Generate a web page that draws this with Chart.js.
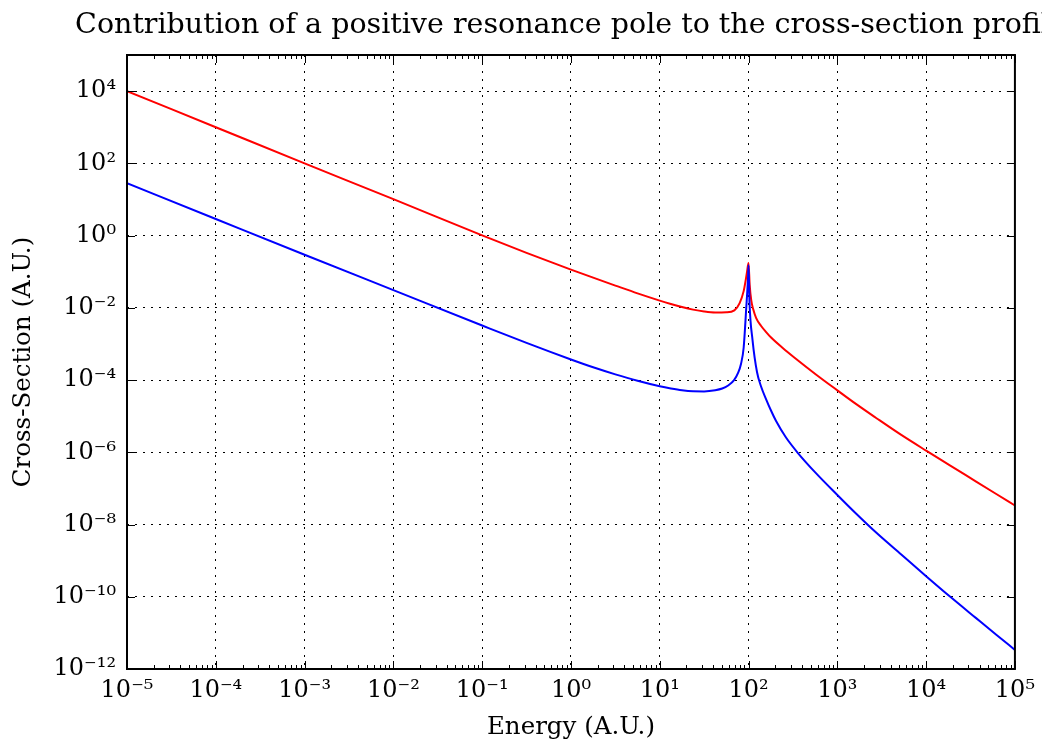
<!DOCTYPE html>
<html><head><meta charset="utf-8">
<script src="https://cdn.jsdelivr.net/npm/chart.js@4/dist/chart.umd.min.js"></script>
<style>html,body{margin:0;padding:0;background:#fff}canvas{display:block}</style>
</head><body>
<canvas id="c" width="1042" height="748"></canvas>
<script>
const titleText = 'Contribution of a positive resonance pole to the cross-section profile';
const xTitle = 'Energy (A.U.)';
const yTitle = 'Cross-Section (A.U.)';

const xTickValues = [1e-5, 1e-4, 1e-3, 1e-2, 1e-1, 1e0, 1e1, 1e2, 1e3, 1e4, 1e5];
const xTickLabels = ['10⁻⁵','10⁻⁴','10⁻³','10⁻²','10⁻¹','10⁰','10¹','10²','10³','10⁴','10⁵'];
const yTickValues = [1e-12, 1e-10, 1e-8, 1e-6, 1e-4, 1e-2, 1e0, 1e2, 1e4];
const yTickLabels = ['10⁻¹²','10⁻¹⁰','10⁻⁸','10⁻⁶','10⁻⁴','10⁻²','10⁰','10²','10⁴'];

// red curve
const redEnergy = [1e-5, 1e-4, 1e-3, 1e-2, 0.1, 0.316, 1, 1.778, 3.162, 5.623, 10, 13.34, 17.78, 23.71, 31.62, 42.17, 56.2, 69.2, 79.4, 88.1, 92.5, 96.4, 100,
                   103.0, 107.2, 112.7, 121.9, 138.7, 157.8, 179.5, 242.7, 327.3, 574.1, 1000, 1633, 2735, 5248, 1e4, 18710, 36560, 61660, 1e5];
const redSigma  = [1e4, 1e3, 100, 10.2, 1.01, 0.332, 0.1146, 0.0684, 0.0413, 0.0251, 0.01585, 0.0128, 0.01052, 0.00891, 0.00789, 0.00741, 0.0075, 0.00851, 0.01352, 0.0290, 0.055, 0.104, 0.173,
                   0.0427, 0.0164, 0.00923, 0.0052, 0.00313, 0.00213, 0.0015, 7.73e-4, 4.22e-4, 1.43e-4, 5.19e-5, 2.15e-5, 8.93e-6, 3.02e-6, 1.11e-6, 4.30e-7, 1.55e-7, 7.0e-8, 3.36e-8];

// blue curve
const blueEnergy = [1e-5, 1e-4, 1e-3, 1e-2, 0.1, 0.316, 1, 1.778, 3.162, 5.623, 10, 13.34, 17.78, 23.71, 31.62, 42.17, 50.5, 58.9, 68.7, 76.2, 82.2, 88.1, 94.2, 98.4, 100,
                    102.6, 110.9, 124.5, 138.7, 157.8, 179.5, 204.2, 264.2, 358, 574.1, 1000, 1633, 2735, 5248, 1e4, 18710, 36560, 61660, 1e5];
const blueSigma  = [28.2, 2.88, 0.295, 0.0309, 3.24e-3, 1.07e-3, 3.72e-4, 2.26e-4, 1.44e-4, 9.57e-5, 6.73e-5, 5.85e-5, 5.22e-5, 4.90e-5, 4.86e-5, 5.22e-5, 5.82e-5, 7.05e-5, 9.93e-5, 1.57e-4, 2.79e-4, 7.83e-4, 9.84e-3, 0.0586, 0.152,
                    0.0135, 1.28e-3, 1.67e-4, 6.53e-5, 2.94e-5, 1.41e-5, 7.33e-6, 2.56e-6, 9.70e-7, 2.65e-7, 6.59e-8, 1.99e-8, 6.0e-9, 1.48e-9, 3.72e-10, 9.98e-11, 2.56e-11, 8.89e-12, 3.39e-12];

const toPts = (xs, ys) => xs.map((v, i) => ({x: v, y: ys[i]}));

const FONT = 'DejaVu Serif';

const decor = {
  id: 'decor',
  afterDraw(chart) {
    const {ctx, chartArea: a, scales: {x, y}} = chart;
    ctx.save();
    ctx.strokeStyle = '#000';
    ctx.lineWidth = 1;
    ctx.beginPath();
    for (let k = -5; k <= 5; k++) {
      for (let m = 1; m <= 9; m++) {
        const v = m * Math.pow(10, k);
        if (v > 1.0001e5) break;
        const px = Math.round(x.getPixelForValue(v)) + 0.5;
        const len = m === 1 ? 8 : 4;
        ctx.moveTo(px, a.bottom); ctx.lineTo(px, a.bottom - len);
        ctx.moveTo(px, a.top); ctx.lineTo(px, a.top + len);
      }
    }
    for (const v of yTickValues) {
      const py = Math.round(y.getPixelForValue(v)) + 0.5;
      ctx.moveTo(a.left, py); ctx.lineTo(a.left + 8, py);
      ctx.moveTo(a.right, py); ctx.lineTo(a.right - 8, py);
    }
    ctx.stroke();
    ctx.lineWidth = 2;
    ctx.strokeRect(a.left, a.top, a.right - a.left, a.bottom - a.top);
    ctx.fillStyle = '#000';
    ctx.font = '28.5px "' + FONT + '"';
    ctx.textAlign = 'center';
    ctx.textBaseline = 'alphabetic';
    ctx.fillText(titleText, (a.left + a.right) / 2, 33);
    ctx.restore();
  }
};

new Chart(document.getElementById('c'), {
  type: 'line',
  data: {
    datasets: [
      {label: 'blue', data: toPts(blueEnergy, blueSigma), borderColor: '#0000ff', borderWidth: 2, order: 0,
       cubicInterpolationMode: 'monotone', pointRadius: 0, fill: false},
      {label: 'red', data: toPts(redEnergy, redSigma), borderColor: '#ff0000', borderWidth: 2, order: 1,
       cubicInterpolationMode: 'monotone', pointRadius: 0, fill: false}
    ]
  },
  options: {
    responsive: false,
    animation: false,
    layout: {padding: {top: 55, right: 23, left: 0, bottom: 0}},
    plugins: {legend: {display: false}, tooltip: {enabled: false}, title: {display: false}},
    scales: {
      x: {
        type: 'logarithmic', min: 1e-5, max: 1e5, position: 'bottom',
        afterBuildTicks: s => { s.ticks = xTickValues.map(v => ({value: v})); },
        afterFit: s => { s.height = 79; },
        ticks: {autoSkip: false, maxRotation: 0, minRotation: 0, padding: 7, color: '#000',
                font: {family: FONT, size: 24}, callback: (v, i) => xTickLabels[i]},
        grid: {color: '#000', lineWidth: 1, drawTicks: false},
        border: {display: false, dash: [2, 6]},
        title: {display: true, text: xTitle, color: '#000', font: {family: FONT, size: 24.5}, padding: {top: 0, bottom: 6}}
      },
      y: {
        type: 'logarithmic', min: 1e-12, max: 1e5, position: 'left',
        afterBuildTicks: s => { s.ticks = yTickValues.map(v => ({value: v})); },
        afterFit: s => { s.width = 127; },
        ticks: {autoSkip: false, padding: 11, color: '#000',
                font: {family: FONT, size: 24}, callback: (v, i) => yTickLabels[i]},
        grid: {color: '#000', lineWidth: 1, drawTicks: false},
        border: {display: false, dash: [2, 6]},
        title: {display: true, text: yTitle, color: '#000', font: {family: FONT, size: 24.5}, padding: {top: 9, bottom: 0}}
      }
    }
  },
  plugins: [decor]
});
</script>
</body></html>
